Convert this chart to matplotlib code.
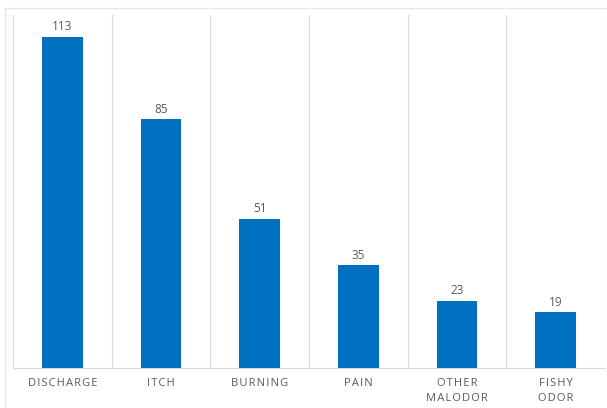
import matplotlib

matplotlib.use("Agg")
import matplotlib.pyplot as plt
from matplotlib.patches import Rectangle

categories = ["DISCHARGE", "ITCH", "BURNING", "PAIN", "OTHER\nMALODOR", "FISHY\nODOR"]
counts = [113, 85, 51, 35, 23, 19]

bar_color = "#0070C0"
grid_color = "#D9D9D9"
text_color = "#595959"

plt.rcParams["font.family"] = ["Open Sans", "DejaVu Sans"]


def spaced(label):
    # mimic the letter spacing of the original axis labels
    return "\n".join("\u200a".join(line) for line in label.split("\n"))


fig = plt.figure(figsize=(6.07, 4.08), dpi=100)
# light outer chart border
fig.patches.append(Rectangle((5 / 607, -0.05), 1.2, 1.05 - 8 / 408,
                             transform=fig.transFigure, fill=False, edgecolor="#E6E6E6", linewidth=1))

ax = fig.add_axes([13 / 607, 40 / 408, 592 / 607, 353 / 408])
x = list(range(len(categories)))
bars = ax.bar(x, counts, width=0.41, color=bar_color, zorder=3)
for rect, val in zip(bars, counts):
    ax.annotate(str(val), (rect.get_x() + rect.get_width() / 2, rect.get_height()),
                xytext=(0, 2.5), textcoords="offset points", ha="center", va="bottom",
                fontsize=8.5, color=text_color)

ax.set_xlim(-0.5, len(categories) - 0.5)
ax.set_ylim(0, 120.5)
ax.set_yticks([])
for b in [i - 0.5 for i in range(len(categories) + 1)]:
    ax.axvline(b, color=grid_color, linewidth=0.8, zorder=1)
ax.set_xticks(x)
ax.set_xticklabels([spaced(c) for c in categories], fontsize=8, color=text_color, linespacing=1.5)
ax.tick_params(axis="x", length=0, pad=7)
for side in ["top", "right", "left"]:
    ax.spines[side].set_visible(False)
ax.spines["bottom"].set_color(grid_color)
ax.spines["bottom"].set_linewidth(0.8)

fig.savefig("out.png", dpi=100)
